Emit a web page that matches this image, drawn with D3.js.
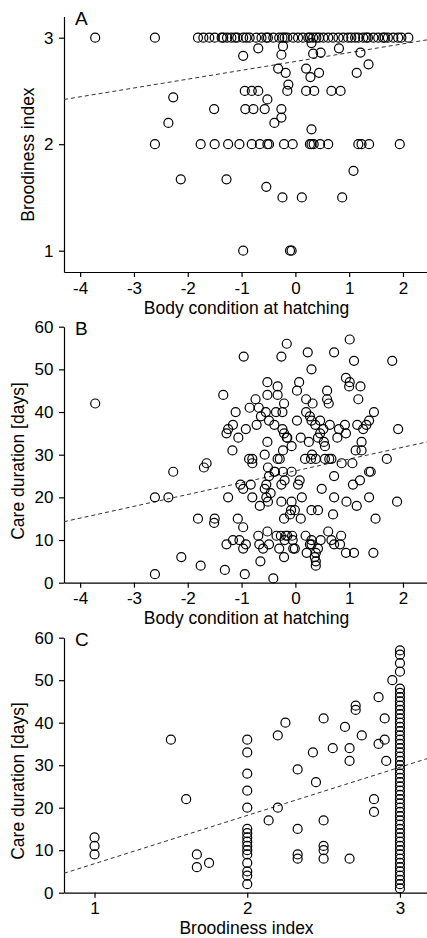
<!DOCTYPE html>
<html>
<head>
<meta charset="utf-8">
<script src="https://cdn.jsdelivr.net/npm/d3@7"></script>
<style>
  body { margin: 0; background: #fff; }
  svg { display: block; font-family: "Liberation Sans", Arial, sans-serif; }
  .axis path, .axis line { stroke: #000; stroke-width: 1.2; }
  .axis text { font-size: 17px; fill: #000; }
</style>
</head>
<body>
<div id="chart"></div>
<script>
// ---- data ----
// Panel A: body condition at hatching vs broodiness index
const broodTopRowA = [-3.72, -2.61, -1.81, -1.71, -1.60, -1.50, -1.37, -1.34, -1.27, -1.19, -1.12, -1.08,
  -0.97, -0.91, -0.85, -0.73, -0.63, -0.54, -0.51, -0.41, -0.30, -0.24, -0.20, -0.15, -0.04, 0.05, 0.14,
  0.24, 0.27, 0.33, 0.39, 0.44, 0.52, 0.61, 0.70, 0.80, 0.89, 0.98, 1.04, 1.11, 1.17, 1.26, 1.32, 1.35,
  1.45, 1.54, 1.63, 1.66, 1.72, 1.82, 1.91, 1.97, 2.10];
const broodMidRowA = [-2.61, -1.76, -1.50, -1.25, -1.04, -0.81, -0.66, -0.52, -0.49, -0.21, -0.05,
  0.27, 0.30, 0.34, 0.46, 0.61, 1.17, 1.23, 1.37, 1.94];
const broodOtherA = [
  [-0.97, 2.83], [-0.69, 2.90], [-0.23, 2.92], [-0.26, 2.84], [0.30, 2.95], [0.33, 2.85], [0.47, 2.86],
  [0.81, 2.90], [1.21, 2.86], [1.36, 2.75], [1.14, 2.67], [-0.32, 2.71], [-0.18, 2.67], [0.20, 2.71],
  [0.28, 2.63], [0.44, 2.67], [-0.13, 2.56], [-0.15, 2.50], [-0.94, 2.50], [-0.81, 2.50], [-0.69, 2.50],
  [-0.52, 2.42], [0.20, 2.50], [0.35, 2.50], [0.67, 2.50], [0.84, 2.50], [-1.51, 2.33], [-0.93, 2.33],
  [-0.78, 2.33], [-0.57, 2.33], [-0.26, 2.33], [-0.26, 2.25], [-0.39, 2.20], [0.30, 2.14], [-2.27, 2.44],
  [-2.36, 2.20], [-2.13, 1.67], [-1.28, 1.67], [-0.54, 1.60], [-0.24, 1.50], [0.12, 1.50], [0.87, 1.50],
  [1.08, 1.75], [-0.97, 1], [-0.10, 1], [-0.07, 1]
];
const fitA = [[-4.3, 2.42], [2.45, 2.98]];

// Panel B: body condition at hatching vs care duration (days)
const careB = [
  [-3.72, 42], [-2.61, 20], [-2.36, 20], [-2.27, 26], [-1.65, 28], [-1.70, 27], [-1.81, 15], [-1.50, 15],
  [-1.51, 14], [-2.12, 6], [-1.76, 4], [-2.61, 2],
  [-0.16, 56], [1.01, 57], [-0.96, 53], [-0.26, 53], [0.23, 54], [0.72, 54], [1.09, 52], [1.80, 52],
  [0.30, 50], [0.94, 48], [1.01, 47], [1.00, 46], [1.21, 46], [-0.52, 47], [-0.33, 46], [0.07, 47],
  [0.03, 45], [0.59, 45], [0.59, 43], [0.62, 42], [1.17, 43], [-1.34, 44], [-0.52, 44], [-0.33, 44],
  [-0.74, 43], [0.20, 43], [-0.21, 42], [0.32, 42], [-0.85, 41], [-0.68, 41], [-1.11, 40], [-0.55, 40],
  [-0.36, 40], [-0.24, 40], [0.20, 40], [1.46, 40], [-0.64, 39], [-0.49, 38], [0.03, 38], [0.27, 39],
  [0.30, 38], [0.46, 38], [1.37, 38], [-0.72, 37], [-0.39, 37], [0.37, 37], [0.64, 37], [0.92, 37],
  [1.15, 37], [1.32, 37], [-1.25, 36], [-1.28, 35], [-1.16, 37], [-0.92, 36], [-0.24, 36], [-0.21, 35],
  [-0.15, 34], [0.52, 36], [0.42, 34], [0.81, 36], [0.94, 35], [0.78, 34], [1.26, 36], [1.91, 36],
  [-1.06, 34], [0.10, 34], [0.53, 33], [-0.52, 33], [0.25, 33], [1.23, 33], [-0.07, 32], [0.55, 32],
  [-1.17, 31], [-0.23, 31], [1.12, 31], [1.23, 31], [-0.57, 30], [-0.86, 29], [-0.80, 29], [-0.80, 28],
  [-0.33, 29], [-0.29, 29], [0.18, 29], [0.29, 29], [0.38, 29], [0.55, 29], [0.63, 29], [0.67, 29],
  [0.31, 30], [0.86, 28], [1.06, 28], [1.70, 29], [-0.51, 27], [-0.49, 25], [-0.23, 26], [-0.07, 26],
  [-0.39, 26], [0.08, 24], [0.05, 23], [-0.20, 24], [-0.26, 23], [-0.54, 23], [0.72, 25], [1.37, 26],
  [1.40, 26], [1.20, 24], [1.07, 23], [-1.02, 23], [-0.83, 23], [-0.97, 22], [0.49, 22], [-0.57, 22],
  [-0.46, 21], [-0.54, 20], [-1.25, 20], [-0.80, 20], [-0.51, 19], [-0.66, 18], [-0.26, 19], [-0.07, 19],
  [0.12, 20], [0.72, 20], [0.95, 19], [1.14, 18], [1.37, 20], [1.89, 19], [-0.08, 17], [-0.01, 17],
  [0.30, 17], [0.42, 17], [0.70, 16], [-0.21, 15], [-0.10, 16], [0.10, 15], [1.49, 15], [-1.07, 15],
  [-0.97, 13], [-0.52, 12], [-0.69, 11], [-0.27, 11], [-0.15, 11], [-0.06, 11], [0.19, 11], [0.61, 12],
  [0.85, 11], [-1.16, 10], [-1.04, 10], [-0.92, 9], [-1.28, 9], [-0.67, 9], [-0.49, 9], [-0.20, 10],
  [-0.05, 10], [0.47, 10], [0.67, 10], [0.83, 9], [0.30, 10], [0.27, 9], [0.42, 8], [-0.97, 8],
  [-0.60, 8], [-0.30, 8], [-0.01, 8], [0.72, 9], [-0.21, 6], [0.21, 7], [0.38, 7], [0.94, 7], [1.09, 7],
  [1.45, 7], [0.36, 6], [0.38, 5], [0.38, 4], [-0.65, 5], [-1.31, 3], [-0.94, 2], [-0.41, 1], [-0.04, 8],
  [0.30, 9], [-0.18, 11], [-0.35, 11], [-0.38, 26], [0.46, 35], [-0.16, 34]
];
const fitB = [[-4.3, 14.3], [2.45, 33.0]];

// Panel C: broodiness index vs care duration (days)
const careAtBrood1 = [13, 11, 9];
const careAtBrood2 = [36, 33, 28, 24, 20, 15, 14, 13, 12, 11, 10, 9, 7, 5, 4, 2];
const careAtBrood3 = [57, 56, 54, 52, 48, 47, 46, 45, 44, 43, 42, 41, 40, 39, 38, 37, 36, 35, 34, 33,
  32, 31, 30, 29, 28, 27, 26, 25, 24, 23, 22, 21, 20, 19, 18, 17, 16, 15, 14, 13, 12, 11, 10, 9, 8, 7,
  6, 5, 4, 3, 2, 1];
const careOtherC = [
  [1.50, 36], [1.60, 22], [1.67, 9], [1.67, 6], [1.75, 7], [2.14, 17], [2.20, 20], [2.20, 37], [2.25, 40],
  [2.33, 29], [2.33, 15], [2.33, 9], [2.33, 8], [2.43, 33], [2.45, 26], [2.50, 41], [2.50, 17], [2.50, 11],
  [2.50, 10], [2.50, 8], [2.56, 34], [2.64, 39], [2.67, 34], [2.67, 31], [2.67, 8], [2.71, 44], [2.71, 43],
  [2.75, 37], [2.83, 22], [2.83, 19], [2.86, 46], [2.86, 35], [2.90, 41], [2.90, 36], [2.91, 31], [2.95, 50]
];
const fitC = [[0.8, 4.56], [3.2, 31.8]];

// tick labels
const condTicks = [-4, -3, -2, -1, 0, 1, 2];
const broodTicks = [1, 2, 3];
const careTicks = [0, 10, 20, 30, 40, 50, 60];

// ---- drawing ----
const width = 427, height = 938;
const svg = d3.select("#chart").append("svg")
    .attr("width", width)
    .attr("height", height);

const pointsA = broodTopRowA.map(x => [x, 3])
    .concat(broodMidRowA.map(x => [x, 2]))
    .concat(broodOtherA);
const pointsC = careAtBrood1.map(y => [1, y])
    .concat(careAtBrood2.map(y => [2, y]))
    .concat(careAtBrood3.map(y => [3, y]))
    .concat(careOtherC);

const panels = [
  { letter: "A", pts: pointsA, fit: fitA,
    x: d3.scaleLinear().domain([-4.3, 2.45]).range([64, 427.2]), xTicks: condTicks,
    y: d3.scaleLinear().domain([0.8, 3.2]).range([272, 16.4]), yTicks: broodTicks,
    xTitle: "Body condition at hatching", yTitle: "Broodiness index", yTitleX: 33.5, yTitleY: 154.5 },
  { letter: "B", pts: careB, fit: fitB,
    x: d3.scaleLinear().domain([-4.3, 2.45]).range([64, 427.2]), xTicks: condTicks,
    y: d3.scaleLinear().domain([0, 60]).range([582.7, 326.7]), yTicks: careTicks,
    xTitle: "Body condition at hatching", yTitle: "Care duration [days]", yTitleX: 23.5, yTitleY: 461 },
  { letter: "C", pts: pointsC, fit: fitC,
    x: d3.scaleLinear().domain([0.8, 3.2]).range([64, 430.5]), xTicks: broodTicks,
    y: d3.scaleLinear().domain([0, 60]).range([892.7, 637.7]), yTicks: careTicks,
    xTitle: "Broodiness index", yTitle: "Care duration [days]", yTitleX: 23.5, yTitleY: 781 }
];

panels.forEach(p => {
  const g = svg.append("g");
  const y0 = p.y.range()[0], yTop = p.y.range()[1];

  // axes
  g.append("g")
      .attr("class", "axis")
      .attr("transform", `translate(0,${y0})`)
      .call(d3.axisBottom(p.x).tickValues(p.xTicks).tickFormat(d => String(d))
        .tickSize(5).tickSizeOuter(0).tickPadding(4.5));
  g.append("g")
      .attr("class", "axis")
      .attr("transform", `translate(${p.x.range()[0]},0)`)
      .call(d3.axisLeft(p.y).tickValues(p.yTicks).tickFormat(d => String(d))
        .tickSize(5).tickSizeOuter(0).tickPadding(5.5));

  // fitted line
  g.append("line")
      .attr("x1", p.x(p.fit[0][0])).attr("y1", p.y(p.fit[0][1]))
      .attr("x2", p.x(p.fit[1][0])).attr("y2", p.y(p.fit[1][1]))
      .attr("stroke", "#333")
      .attr("stroke-width", 1)
      .attr("stroke-dasharray", "4,3");

  // points
  g.selectAll("circle")
    .data(p.pts)
    .enter()
    .append("circle")
      .attr("cx", d => p.x(d[0]))
      .attr("cy", d => p.y(d[1]))
      .attr("r", 4.5)
      .attr("fill", "none")
      .attr("stroke", "#000")
      .attr("stroke-width", 1.2);

  // titles
  g.append("text")
      .attr("x", 246.5)
      .attr("y", y0 + 41.5)
      .attr("text-anchor", "middle")
      .style("font-size", "17.5px")
      .text(p.xTitle);
  g.append("text")
      .attr("transform", `translate(${p.yTitleX},${p.yTitleY}) rotate(-90)`)
      .attr("text-anchor", "middle")
      .style("font-size", "17.5px")
      .text(p.yTitle);
  g.append("text")
      .attr("x", 75)
      .attr("y", yTop + 8.5)
      .style("font-size", "19px")
      .text(p.letter);
});
</script>
</body>
</html>
